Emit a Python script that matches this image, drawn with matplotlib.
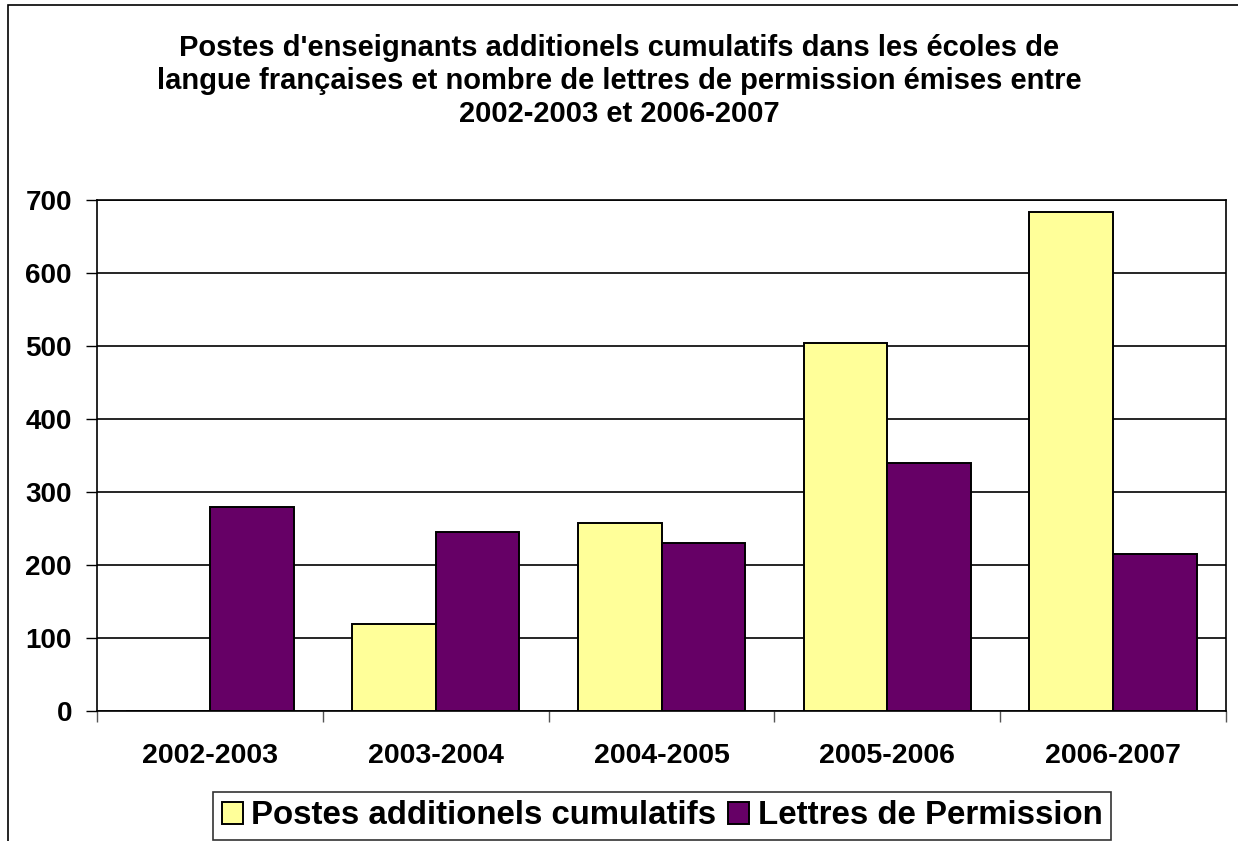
import matplotlib
matplotlib.use("Agg")
import matplotlib.pyplot as plt
import numpy as np
from matplotlib.patches import Rectangle

plt.rcParams['font.family'] = ['Liberation Sans', 'DejaVu Sans']
plt.rcParams['font.weight'] = 'bold'

years = ["2002-2003", "2003-2004", "2004-2005", "2005-2006", "2006-2007"]
postes = [0, 119, 258, 504, 683]
lettres = [279, 245, 230, 340, 215]
series_names = ["Postes additionels cumulatifs", "Lettres de Permission"]
title = ("Postes d'enseignants additionels cumulatifs dans les écoles de\n"
         "langue françaises et nombre de lettres de permission émises entre\n"
         "2002-2003 et 2006-2007")

W, H = 1238, 841
fig = plt.figure(figsize=(W / 100, H / 100), dpi=100)
fig.patch.set_facecolor("white")

# chart area border (runs off the right and bottom edges)
fig.patches.append(Rectangle((8 / W, -0.05), 1.1, 1 - 5 / H + 0.05, transform=fig.transFigure,
                             fill=False, edgecolor="black", linewidth=1.2, clip_on=False))

ax = fig.add_axes([97 / W, 1 - 711 / H, (1226 - 97) / W, (711 - 200) / H])

x = np.arange(len(years))
bw = 1 / 2.7
b1 = ax.bar(x - bw / 2, postes, bw, color="#FFFF99", edgecolor="black", linewidth=1.4,
            label=series_names[0], zorder=3)
b2 = ax.bar(x + bw / 2, lettres, bw, color="#660066", edgecolor="black", linewidth=1.4,
            label=series_names[1], zorder=3)

ax.set_xlim(-0.5, len(years) - 0.5)
ax.set_ylim(0, 700)
ax.set_yticks(np.arange(0, 701, 100))
ax.yaxis.grid(True, color="black", linewidth=1.2, zorder=0)
ax.set_xticks(x)
ax.set_xticklabels(years, fontsize=20.5, fontweight="bold")
ax.set_xticks(np.arange(-0.5, len(years), 1), minor=True)
ax.tick_params(axis="x", which="major", length=0, pad=23)
ax.tick_params(axis="x", which="minor", length=8, width=1, color="#555555")
ax.tick_params(axis="y", labelsize=20, length=8, width=1, pad=10)
for lab in ax.get_yticklabels():
    lab.set_fontweight("bold")
for sp in ax.spines.values():
    sp.set_linewidth(1.2)
    sp.set_color("black")

fig.text(0.5, 1 - 81 / H, title, ha="center", va="center", fontsize=21, fontweight="bold",
         linespacing=1.24)

leg = fig.legend(handles=[b1, b2], labels=series_names, loc="center",
                 bbox_to_anchor=(662 / W, 1 - 816 / H), ncol=2, fontsize=23.8,
                 frameon=True, fancybox=False, edgecolor="black", handlelength=0.65,
                 handleheight=0.65, handletextpad=0.25, columnspacing=0.35,
                 borderpad=0.25, borderaxespad=0)
leg.get_frame().set_linewidth(1.2)
for t in leg.get_texts():
    t.set_fontweight("bold")

fig.savefig("out.png", dpi=100)
